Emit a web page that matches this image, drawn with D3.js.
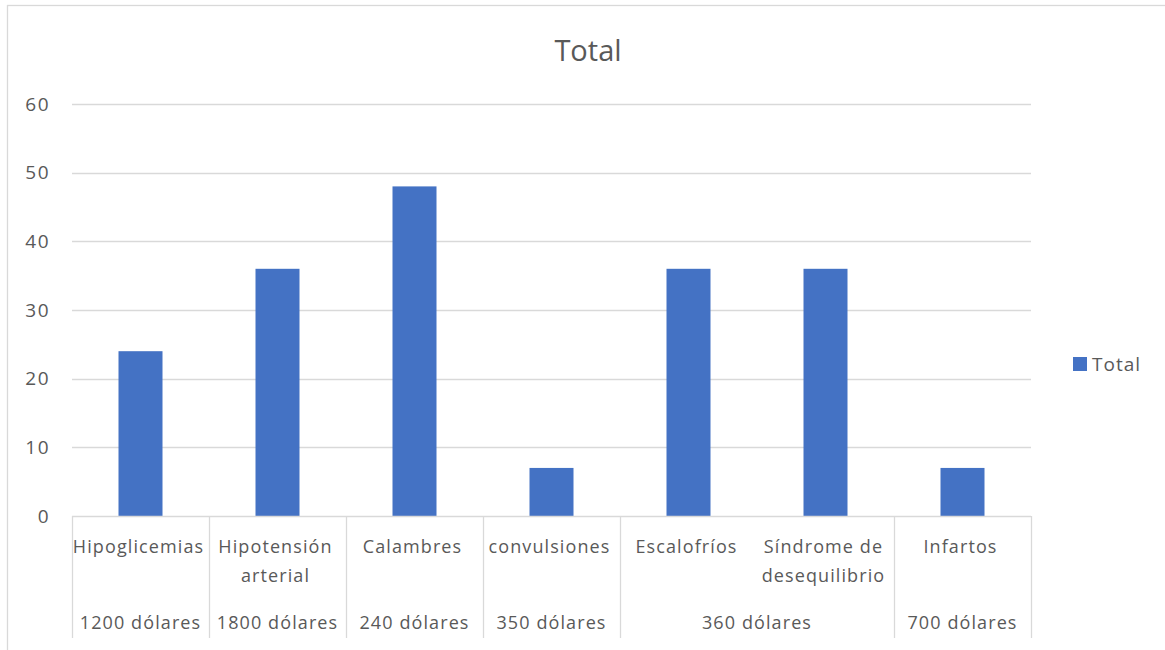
<!DOCTYPE html>
<html>
<head>
<meta charset="utf-8">
<script src="https://cdn.jsdelivr.net/npm/d3@7"></script>
<style>
  html, body { margin: 0; padding: 0; background: #fff; }
  svg text { font-family: "Open Sans", "Noto Sans", sans-serif; fill: #595959; }
</style>
</head>
<body>
<svg id="chart" width="1165" height="650"></svg>
<script>
// ---- data ----
const categories = ["Hipoglicemias", "Hipotensión arterial", "Calambres", "convulsiones", "Escalofríos", "Síndrome de desequilibrio", "Infartos"];
const categoryLines = [["Hipoglicemias"], ["Hipotensión", "arterial"], ["Calambres"], ["convulsiones"], ["Escalofríos"], ["Síndrome de", "desequilibrio"], ["Infartos"]];
const groups = ["1200 dólares", "1800 dólares", "240 dólares", "350 dólares", "360 dólares", "360 dólares", "700 dólares"];
const values = [24, 36, 48, 7, 36, 36, 7];
const yTicks = [0, 10, 20, 30, 40, 50, 60];
const seriesName = "Total";
const chartTitle = "Total";

// ---- layout ----
const svg = d3.select("#chart");
const plot = { left: 72, right: 1031, top: 104, bottom: 516 };
const barColor = "#4472c4";
const gridColor = "#d9d9d9";
const labelSize = 18;
const labelSpacing = 1.1;

// chart area border
svg.append("rect")
  .attr("x", 7.5).attr("y", 5.5)
  .attr("width", 1165).attr("height", 700)
  .attr("fill", "none").attr("stroke", gridColor).attr("stroke-width", 1.3);

const x = d3.scaleBand().domain(categories).range([plot.left, plot.right]).paddingInner(0).paddingOuter(0);
const y = d3.scaleLinear().domain([0, 60]).range([plot.bottom, plot.top]);

// gridlines
svg.append("g").selectAll("line").data(yTicks.filter(d => d > 0)).join("line")
  .attr("x1", plot.left).attr("x2", plot.right)
  .attr("y1", d => Math.round(y(d)) + 0.5).attr("y2", d => Math.round(y(d)) + 0.5)
  .attr("stroke", gridColor).attr("stroke-width", 1.3);

// y axis labels
const yAxis = d3.axisLeft(y).tickValues(yTicks).tickSize(0).tickPadding(0);
const yg = svg.append("g").attr("transform", `translate(${plot.left - 22},0)`).call(yAxis);
yg.select(".domain").remove();
yg.selectAll("text").attr("font-size", 19).attr("fill", "#595959")
  .attr("letter-spacing", 1.5)
  .attr("font-family", '"Open Sans", sans-serif');

// bars
const barW = 44;
svg.append("g").selectAll("rect").data(values).join("rect")
  .attr("x", (d, i) => x(categories[i]) + x.bandwidth() / 2 - barW / 2)
  .attr("width", barW)
  .attr("y", d => y(d))
  .attr("height", d => y(0) - y(d))
  .attr("fill", barColor);

// x axis baseline
svg.append("line")
  .attr("x1", plot.left).attr("x2", plot.right)
  .attr("y1", plot.bottom + 0.5).attr("y2", plot.bottom + 0.5)
  .attr("stroke", gridColor).attr("stroke-width", 1.3);

// group spans (merge consecutive identical groups)
const spans = [];
groups.forEach((g, i) => {
  const last = spans[spans.length - 1];
  if (last && last.label === g) { last.end = i; }
  else spans.push({ label: g, start: i, end: i });
});

// separator lines at span boundaries
const sepX = [plot.left];
spans.forEach(s => sepX.push(x(categories[s.end]) + x.bandwidth()));
svg.append("g").selectAll("line").data(sepX).join("line")
  .attr("x1", d => Math.round(d) + 0.5).attr("x2", d => Math.round(d) + 0.5)
  .attr("y1", plot.bottom).attr("y2", 638)
  .attr("stroke", gridColor).attr("stroke-width", 1.3);

// category labels
const catG = svg.append("g");
categoryLines.forEach((lines, i) => {
  const cx = x(categories[i]) + x.bandwidth() / 2 - 2;
  lines.forEach((ln, j) => {
    catG.append("text")
      .attr("x", cx).attr("y", 553 + j * 29)
      .attr("text-anchor", "middle")
      .attr("font-size", labelSize)
      .attr("letter-spacing", labelSpacing)
      .text(ln);
  });
});

// group labels
svg.append("g").selectAll("text").data(spans).join("text")
  .attr("x", s => (x(categories[s.start]) + x(categories[s.end]) + x.bandwidth()) / 2)
  .attr("y", 629)
  .attr("text-anchor", "middle")
  .attr("font-size", labelSize)
  .attr("letter-spacing", labelSpacing)
  .text(s => s.label);

// title
svg.append("text")
  .attr("x", 588).attr("y", 61)
  .attr("text-anchor", "middle")
  .attr("font-size", 29)
  .text(chartTitle);

// legend
svg.append("rect").attr("x", 1073).attr("y", 357).attr("width", 14).attr("height", 14).attr("fill", barColor);
svg.append("text").attr("x", 1092).attr("y", 370.5).attr("font-size", 19)
  .attr("letter-spacing", 1).text(seriesName);
</script>
</body>
</html>
